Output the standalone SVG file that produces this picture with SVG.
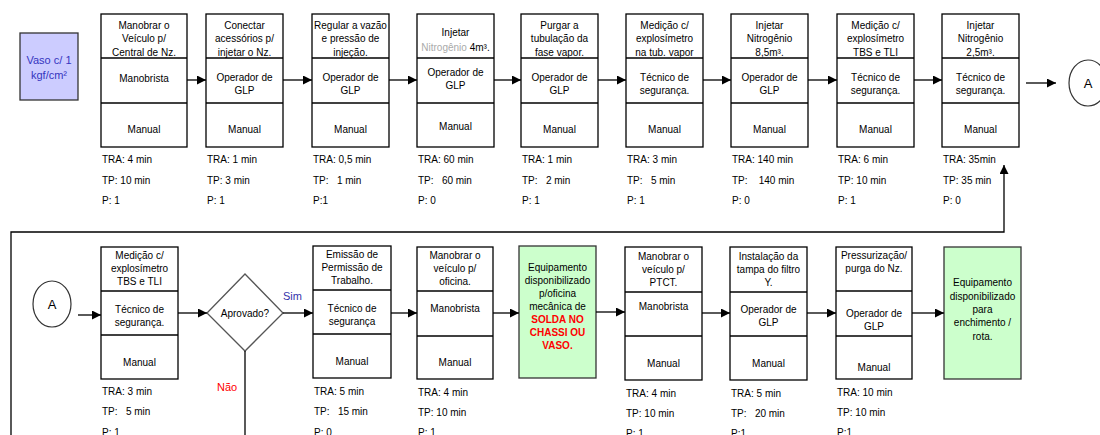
<svg xmlns="http://www.w3.org/2000/svg" width="1100" height="435" viewBox="0 0 1100 435">
<defs>
<marker id="ah" markerUnits="userSpaceOnUse" markerWidth="9" markerHeight="9" refX="9" refY="4.5" orient="auto">
<path d="M0,0 L9,4.5 L0,9 z" fill="#000"/>
</marker>
<style>
.bx{fill:#fff;stroke:#000;stroke-width:1.3}
.dv{stroke:#000;stroke-width:1.3}
.gr{fill:#ccffcc;stroke:#333;stroke-width:1.3}
.t{font-family:"Liberation Sans",Arial,sans-serif;font-size:10px;fill:#000;white-space:pre}
.c{text-anchor:middle}
.cn{fill:none;stroke:#000;stroke-width:1.3}
.red{fill:#ff0000;font-weight:bold}
</style>
</defs>

<g id="vaso">
<rect x="20" y="33" width="58" height="67" fill="#ccccff" stroke="#333" stroke-width="1.3"/>
<text class="t c" x="49" y="64" style="font-size:11px;fill:#3535c0">Vaso c/ 1</text>
<text class="t c" x="49" y="79" style="font-size:11px;fill:#3535c0">kgf/cm²</text>
</g>

<g id="n1" transform="translate(101,14)">
<rect class="bx" width="86" height="133"/><line class="dv" x1="0" y1="44" x2="86" y2="44"/><line class="dv" x1="0" y1="89" x2="86" y2="89"/>
<text class="t c" x="43" y="15">Manobrar o</text><text class="t c" x="43" y="28">Veículo p/</text><text class="t c" x="43" y="42">Central de Nz.</text>
<text class="t c" x="43" y="68">Manobrista</text>
<text class="t c" x="43" y="119">Manual</text>
<text class="t" x="1" y="149">TRA: 4 min</text><text class="t" x="1" y="170">TP: 10 min</text><text class="t" x="1" y="190">P: 1</text>
</g>

<g id="n2" transform="translate(206,14)">
<rect class="bx" width="77" height="133"/><line class="dv" x1="0" y1="44" x2="77" y2="44"/><line class="dv" x1="0" y1="89" x2="77" y2="89"/>
<text class="t c" x="38.5" y="15">Conectar</text><text class="t c" x="38.5" y="28">acessórios p/</text><text class="t c" x="38.5" y="42">injetar o Nz.</text>
<text class="t c" x="38.5" y="67">Operador de</text><text class="t c" x="38.5" y="80">GLP</text>
<text class="t c" x="38.5" y="119">Manual</text>
<text class="t" x="1" y="149">TRA: 1 min</text><text class="t" x="1" y="170">TP: 3 min</text><text class="t" x="1" y="190">P: 1</text>
</g>

<g id="n3" transform="translate(312,14)">
<rect class="bx" width="77" height="133"/><line class="dv" x1="0" y1="44" x2="77" y2="44"/><line class="dv" x1="0" y1="89" x2="77" y2="89"/>
<text class="t c" x="38.5" y="15">Regular a vazão</text><text class="t c" x="38.5" y="28">e pressão de</text><text class="t c" x="38.5" y="42">injeção.</text>
<text class="t c" x="38.5" y="67">Operador de</text><text class="t c" x="38.5" y="80">GLP</text>
<text class="t c" x="38.5" y="119">Manual</text>
<text class="t" x="1" y="149">TRA: 0,5 min</text><text class="t" x="1" y="170">TP:   1 min</text><text class="t" x="1" y="190">P:1</text>
</g>

<g id="n4" transform="translate(417,14)">
<rect class="bx" width="77" height="133"/><line class="dv" x1="0" y1="44" x2="77" y2="44"/><line class="dv" x1="0" y1="89" x2="77" y2="89"/>
<text class="t c" x="38.5" y="22">Injetar</text><text class="t c" x="38.5" y="37"><tspan fill="#aaaaaa">Nitrogênio</tspan> 4m³.</text>
<text class="t c" x="38.5" y="62">Operador de</text><text class="t c" x="38.5" y="75">GLP</text>
<text class="t c" x="38.5" y="116">Manual</text>
<text class="t" x="1" y="149">TRA: 60 min</text><text class="t" x="1" y="170">TP:   60 min</text><text class="t" x="1" y="190">P: 0</text>
</g>

<g id="n5" transform="translate(521,14)">
<rect class="bx" width="77" height="133"/><line class="dv" x1="0" y1="44" x2="77" y2="44"/><line class="dv" x1="0" y1="89" x2="77" y2="89"/>
<text class="t c" x="38.5" y="15">Purgar a</text><text class="t c" x="38.5" y="28">tubulação da</text><text class="t c" x="38.5" y="42">fase vapor.</text>
<text class="t c" x="38.5" y="67">Operador de</text><text class="t c" x="38.5" y="80">GLP</text>
<text class="t c" x="38.5" y="119">Manual</text>
<text class="t" x="1" y="149">TRA: 1 min</text><text class="t" x="1" y="170">TP:   2 min</text><text class="t" x="1" y="190">P: 1</text>
</g>

<g id="n6" transform="translate(626,14)">
<rect class="bx" width="77" height="133"/><line class="dv" x1="0" y1="44" x2="77" y2="44"/><line class="dv" x1="0" y1="89" x2="77" y2="89"/>
<text class="t c" x="38.5" y="15">Medição c/</text><text class="t c" x="38.5" y="28">explosímetro</text><text class="t c" x="38.5" y="42">na tub. vapor</text>
<text class="t c" x="38.5" y="67">Técnico de</text><text class="t c" x="38.5" y="80">segurança.</text>
<text class="t c" x="38.5" y="119">Manual</text>
<text class="t" x="1" y="149">TRA: 3 min</text><text class="t" x="1" y="170">TP:   5 min</text><text class="t" x="1" y="190">P: 1</text>
</g>

<g id="n7" transform="translate(731,14)">
<rect class="bx" width="77" height="133"/><line class="dv" x1="0" y1="44" x2="77" y2="44"/><line class="dv" x1="0" y1="89" x2="77" y2="89"/>
<text class="t c" x="38.5" y="15">Injetar</text><text class="t c" x="38.5" y="28">Nitrogênio</text><text class="t c" x="38.5" y="42">8,5m³.</text>
<text class="t c" x="38.5" y="67">Operador de</text><text class="t c" x="38.5" y="80">GLP</text>
<text class="t c" x="38.5" y="119">Manual</text>
<text class="t" x="1" y="149">TRA: 140 min</text><text class="t" x="1" y="170">TP:    140 min</text><text class="t" x="1" y="190">P: 0</text>
</g>

<g id="n8" transform="translate(837,14)">
<rect class="bx" width="77" height="133"/><line class="dv" x1="0" y1="44" x2="77" y2="44"/><line class="dv" x1="0" y1="89" x2="77" y2="89"/>
<text class="t c" x="38.5" y="15">Medição c/</text><text class="t c" x="38.5" y="28">explosímetro</text><text class="t c" x="38.5" y="42">TBS e TLI</text>
<text class="t c" x="38.5" y="67">Técnico de</text><text class="t c" x="38.5" y="80">segurança.</text>
<text class="t c" x="38.5" y="119">Manual</text>
<text class="t" x="1" y="149">TRA: 6 min</text><text class="t" x="1" y="170">TP: 10 min</text><text class="t" x="1" y="190">P: 1</text>
</g>

<g id="n9" transform="translate(942,14)">
<rect class="bx" width="77" height="133"/><line class="dv" x1="0" y1="44" x2="77" y2="44"/><line class="dv" x1="0" y1="89" x2="77" y2="89"/>
<text class="t c" x="38.5" y="15">Injetar</text><text class="t c" x="38.5" y="28">Nitrogênio</text><text class="t c" x="38.5" y="42">2,5m³.</text>
<text class="t c" x="38.5" y="67">Técnico de</text><text class="t c" x="38.5" y="80">segurança.</text>
<text class="t c" x="38.5" y="119">Manual</text>
<text class="t" x="1" y="149">TRA: 35min</text><text class="t" x="1" y="170">TP: 35 min</text><text class="t" x="1" y="190">P: 0</text>
</g>

<g id="connA1">
<ellipse cx="1088" cy="83" rx="19" ry="23" fill="#fff" stroke="#333" stroke-width="1.2"/>
<text class="t c" x="1088" y="88" style="font-size:13px">A</text>
</g>

<g id="connA2">
<ellipse cx="52" cy="304" rx="19" ry="23" fill="#fff" stroke="#333" stroke-width="1.2"/>
<text class="t c" x="52" y="309" style="font-size:13px">A</text>
</g>

<g id="b1" transform="translate(101,247)">
<rect class="bx" width="77" height="132"/><line class="dv" x1="0" y1="44" x2="77" y2="44"/><line class="dv" x1="0" y1="88" x2="77" y2="88"/>
<text class="t c" x="38.5" y="12">Medição c/</text><text class="t c" x="38.5" y="25">explosímetro</text><text class="t c" x="38.5" y="38">TBS e TLI</text>
<text class="t c" x="38.5" y="66">Técnico de</text><text class="t c" x="38.5" y="79">segurança.</text>
<text class="t c" x="38.5" y="119">Manual</text>
<text class="t" x="1" y="148">TRA: 3 min</text><text class="t" x="1" y="168">TP:   5 min</text><text class="t" x="1" y="189">P: 1</text>
</g>

<g id="dec">
<polygon points="245,274 283,313 245,351 207,313" fill="#fff" stroke="#555" stroke-width="1.3"/>
<text class="t c" x="245" y="317">Aprovado?</text>
</g>

<g id="b2" transform="translate(313,246)">
<rect class="bx" width="78" height="132"/><line class="dv" x1="0" y1="44" x2="78" y2="44"/><line class="dv" x1="0" y1="88" x2="78" y2="88"/>
<text class="t c" x="39" y="12">Emissão de</text><text class="t c" x="39" y="25">Permissão de</text><text class="t c" x="39" y="38">Trabalho.</text>
<text class="t c" x="39" y="66">Técnico de</text><text class="t c" x="39" y="79">segurança</text>
<text class="t c" x="39" y="119">Manual</text>
<text class="t" x="1" y="149">TRA: 5 min</text><text class="t" x="1" y="169">TP:   15 min</text><text class="t" x="1" y="190">P: 0</text>
</g>

<g id="b3" transform="translate(417,247)">
<rect class="bx" width="76" height="132"/><line class="dv" x1="0" y1="44" x2="76" y2="44"/><line class="dv" x1="0" y1="89" x2="76" y2="89"/>
<text class="t c" x="38" y="12">Manobrar o</text><text class="t c" x="38" y="25">veículo p/</text><text class="t c" x="38" y="38">oficina.</text>
<text class="t c" x="38" y="65">Manobrista</text>
<text class="t c" x="38" y="119">Manual</text>
<text class="t" x="1" y="149">TRA: 4 min</text><text class="t" x="1" y="169">TP: 10 min</text><text class="t" x="1" y="189">P: 1</text>
</g>

<g id="g1" transform="translate(519,246)">
<rect class="gr" width="77" height="132"/>
<text class="t c" x="38.5" y="25">Equipamento</text>
<text class="t c" x="38.5" y="38">disponibilizado</text>
<text class="t c" x="38.5" y="51">p/oficina</text>
<text class="t c" x="38.5" y="64">mecânica de</text>
<text class="t c red" x="38.5" y="77">SOLDA NO</text>
<text class="t c red" x="38.5" y="90">CHASSI OU</text>
<text class="t c red" x="38.5" y="103">VASO.</text>
</g>

<g id="b5" transform="translate(625,247)">
<rect class="bx" width="77" height="133"/><line class="dv" x1="0" y1="45" x2="77" y2="45"/><line class="dv" x1="0" y1="89" x2="77" y2="89"/>
<text class="t c" x="38.5" y="13">Manobrar o</text><text class="t c" x="38.5" y="26">veículo p/</text><text class="t c" x="38.5" y="39">PTCT.</text>
<text class="t c" x="38.5" y="63">Manobrista</text>
<text class="t c" x="38.5" y="120">Manual</text>
<text class="t" x="1" y="150">TRA: 4 min</text><text class="t" x="1" y="170">TP: 10 min</text><text class="t" x="1" y="190">P: 1</text>
</g>

<g id="b6" transform="translate(730,247)">
<rect class="bx" width="77" height="133"/><line class="dv" x1="0" y1="45" x2="77" y2="45"/><line class="dv" x1="0" y1="89" x2="77" y2="89"/>
<text class="t c" x="38.5" y="13">Instalação da</text><text class="t c" x="38.5" y="26">tampa do filtro</text><text class="t c" x="38.5" y="39">Y.</text>
<text class="t c" x="38.5" y="66">Operador de</text><text class="t c" x="38.5" y="79">GLP</text>
<text class="t c" x="38.5" y="120">Manual</text>
<text class="t" x="1" y="150">TRA: 5 min</text><text class="t" x="1" y="170">TP:   20 min</text><text class="t" x="1" y="190">P:1</text>
</g>

<g id="b7" transform="translate(836,247)">
<rect class="bx" width="76" height="132"/><line class="dv" x1="0" y1="44" x2="76" y2="44"/><line class="dv" x1="0" y1="89" x2="76" y2="89"/>
<text class="t c" x="38" y="12">Pressurização/</text><text class="t c" x="38" y="25">purga do Nz.</text>
<text class="t c" x="38" y="70">Operador de</text><text class="t c" x="38" y="83">GLP</text>
<text class="t c" x="38" y="124">Manual</text>
<text class="t" x="1" y="149">TRA: 10 min</text><text class="t" x="1" y="169">TP: 10 min</text><text class="t" x="1" y="189">P:1</text>
</g>

<g id="g2" transform="translate(944,247)">
<rect class="gr" width="77" height="132"/>
<text class="t c" x="38.5" y="39">Equipamento</text>
<text class="t c" x="38.5" y="53">disponibilizado</text>
<text class="t c" x="38.5" y="66">para</text>
<text class="t c" x="38.5" y="79">enchimento /</text>
<text class="t c" x="38.5" y="93">rota.</text>
</g>

<g id="connectors">
<line class="cn" x1="187" y1="80" x2="206" y2="80" marker-end="url(#ah)"/>
<line class="cn" x1="283" y1="80" x2="312" y2="80" marker-end="url(#ah)"/>
<line class="cn" x1="389" y1="80" x2="417" y2="80" marker-end="url(#ah)"/>
<line class="cn" x1="494" y1="80" x2="521" y2="80" marker-end="url(#ah)"/>
<line class="cn" x1="598" y1="80" x2="626" y2="80" marker-end="url(#ah)"/>
<line class="cn" x1="703" y1="80" x2="731" y2="80" marker-end="url(#ah)"/>
<line class="cn" x1="808" y1="80" x2="837" y2="80" marker-end="url(#ah)"/>
<line class="cn" x1="914" y1="80" x2="942" y2="80" marker-end="url(#ah)"/>
<line class="cn" x1="1026" y1="83" x2="1056" y2="83" marker-end="url(#ah)"/>
<polyline class="cn" points="11,435 11,232 1004,232 1004,165" marker-end="url(#ah)"/>
<line class="cn" x1="78" y1="315" x2="101" y2="315" marker-end="url(#ah)"/>
<line class="cn" x1="178" y1="313" x2="207" y2="313" marker-end="url(#ah)"/>
<line class="cn" x1="283" y1="313" x2="313" y2="313" marker-end="url(#ah)"/>
<line class="cn" x1="391" y1="313" x2="417" y2="313" marker-end="url(#ah)"/>
<line class="cn" x1="493" y1="313" x2="519" y2="313" marker-end="url(#ah)"/>
<line class="cn" x1="596" y1="312" x2="625" y2="312" marker-end="url(#ah)"/>
<line class="cn" x1="702" y1="313" x2="730" y2="313" marker-end="url(#ah)"/>
<line class="cn" x1="807" y1="313" x2="836" y2="313" marker-end="url(#ah)"/>
<line class="cn" x1="912" y1="313" x2="944" y2="313" marker-end="url(#ah)"/>
<line class="cn" x1="245" y1="351" x2="245" y2="435"/>
<text class="t" x="283" y="300" style="font-size:11px;fill:#3333aa">Sim</text>
<text class="t" x="217" y="391" style="font-size:11px;fill:#ff0000">Não</text>
</g>
</svg>
